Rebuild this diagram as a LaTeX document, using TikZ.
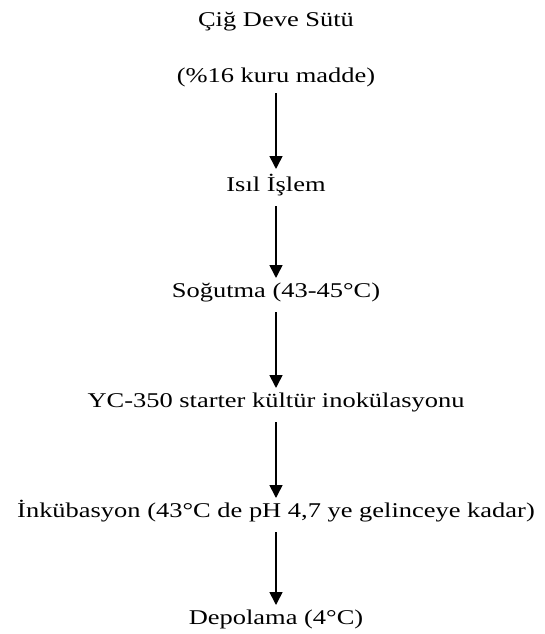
\documentclass[tikz,border=0pt]{standalone}
\usepackage{fontspec}
\setmainfont{Liberation Serif}
\usetikzlibrary{arrows.meta}
\newcommand{\wide}[1]{\scalebox{1.26}[1]{#1}}
\begin{document}
\begin{tikzpicture}[x=1pt,y=-1pt,
  lbl/.style={font=\fontsize{21}{24}\selectfont, inner sep=0pt, anchor=base},
  arr/.style={line width=1.6pt, -{Triangle[width=13pt,length=13pt]}}]
\useasboundingbox (0,0) rectangle (545,634);
\node[lbl] (a) at (276,27) {\wide{Çiğ Deve Sütü}};
\node[lbl] (b) at (276,82) {\wide{(\%16 kuru madde)}};
\node[lbl] (c) at (276,191) {\wide{Isıl İşlem}};
\node[lbl] (d) at (276,297) {\wide{Soğutma (43-45°C)}};
\node[lbl] (e) at (276,407) {\wide{YC-350 starter kültür inokülasyonu}};
\node[lbl] (f) at (276,517) {\wide{İnkübasyon (43°C de pH 4,7 ye gelinceye kadar)}};
\node[lbl] (g) at (276,624) {\wide{Depolama (4°C)}};
\coordinate (b1) at (276,93); \coordinate (c0) at (276,169);
\coordinate (c1) at (276,206); \coordinate (d0) at (276,278);
\coordinate (d1) at (276,312); \coordinate (e0) at (276,388);
\coordinate (e1) at (276,422); \coordinate (f0) at (276,498);
\coordinate (f1) at (276,532); \coordinate (g0) at (276,605);
\draw[arr] (b1) -- (c0);
\draw[arr] (c1) -- (d0);
\draw[arr] (d1) -- (e0);
\draw[arr] (e1) -- (f0);
\draw[arr] (f1) -- (g0);
\end{tikzpicture}
\end{document}
